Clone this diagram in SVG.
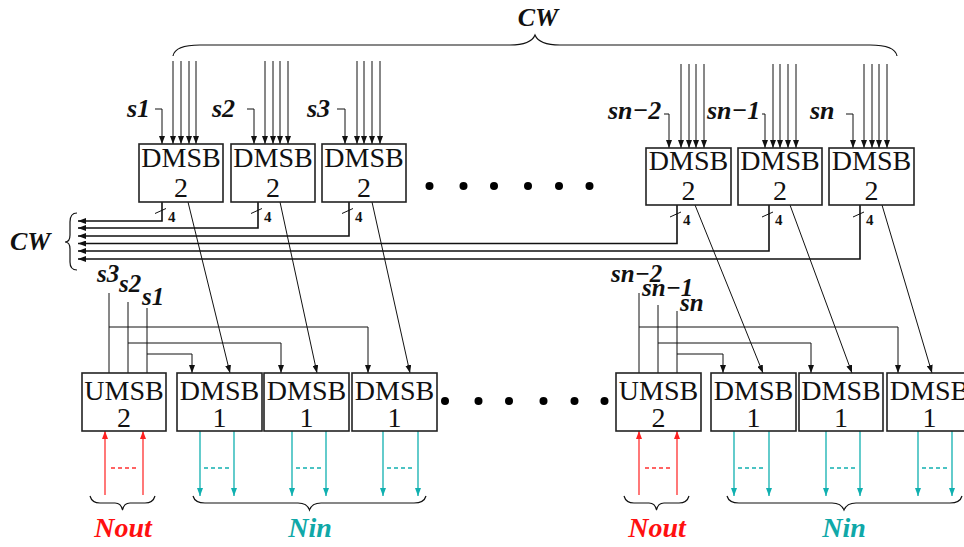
<svg xmlns="http://www.w3.org/2000/svg" width="964" height="547" viewBox="0 0 964 547">
<defs>
<marker id="ab" markerWidth="8" markerHeight="6" refX="8" refY="3" orient="auto" markerUnits="userSpaceOnUse"><path d="M0,0 L8,3 L0,6 z" fill="#111"/></marker>
<marker id="ar" markerWidth="8" markerHeight="6" refX="8" refY="3" orient="auto" markerUnits="userSpaceOnUse"><path d="M0,0 L8,3 L0,6 z" fill="#ff2020"/></marker>
<marker id="at" markerWidth="8" markerHeight="6" refX="8" refY="3" orient="auto" markerUnits="userSpaceOnUse"><path d="M0,0 L8,3 L0,6 z" fill="#10b0b0"/></marker>
</defs>
<style>
.box{fill:#fff;stroke:#222;stroke-width:1.6}
.bt{font-family:"Liberation Serif",serif;font-size:28px;fill:#111;text-anchor:middle}
.lbl{font-family:"Liberation Serif",serif;font-size:26px;font-weight:bold;font-style:italic;fill:#111}
.sl{font-family:"Liberation Serif",serif;font-size:25px;font-weight:bold;font-style:italic;fill:#111}
.four{font-family:"Liberation Serif",serif;font-size:15px;font-weight:bold;fill:#111}
.w{fill:none;stroke:#111;stroke-width:1}
.wa{fill:none;stroke:#111;stroke-width:1;marker-end:url(#ab)}
.bus{fill:none;stroke:#111;stroke-width:1.6;marker-end:url(#ab)}
.red{fill:none;stroke:#ff3030;stroke-width:1.3;marker-end:url(#ar)}
.teal{fill:none;stroke:#10b0b0;stroke-width:1.3;marker-end:url(#at)}
.rd{stroke:#ff3030;stroke-width:1.3;stroke-dasharray:4,3}
.td{stroke:#10b0b0;stroke-width:1.3;stroke-dasharray:4,3}
.br{fill:none;stroke:#111;stroke-width:1.2}
</style>
<rect width="964" height="547" fill="#fff"/>

<g id="connectors">
<path class="br" d="M173,56 Q175,45 200,45 L510,45 Q531,45 535,35 Q539,45 560,45 L870,45 Q895,45 897,56"/>
<path class="wa" d="M155,109 H162 V144"/>
<path class="wa" d="M173,61 V144"/><path class="wa" d="M181,61 V144"/><path class="wa" d="M189,61 V144"/><path class="wa" d="M196,61 V144"/>
<path class="wa" d="M247,109 H254 V144"/>
<path class="wa" d="M265,61 V144"/><path class="wa" d="M273,61 V144"/><path class="wa" d="M280,61 V144"/><path class="wa" d="M288,61 V144"/>
<path class="wa" d="M337,109 H345 V144"/>
<path class="wa" d="M357,61 V144"/><path class="wa" d="M364,61 V144"/><path class="wa" d="M372,61 V144"/><path class="wa" d="M380,61 V144"/>
<path class="wa" d="M664,114 H669 V148"/>
<path class="wa" d="M681,64 V148"/><path class="wa" d="M689,64 V148"/><path class="wa" d="M696,64 V148"/><path class="wa" d="M704,64 V148"/>
<path class="wa" d="M762,114 H765 V148"/>
<path class="wa" d="M773,64 V148"/><path class="wa" d="M780,64 V148"/><path class="wa" d="M788,64 V148"/><path class="wa" d="M796,64 V148"/>
<path class="wa" d="M846,114 H853 V148"/>
<path class="wa" d="M864,64 V148"/><path class="wa" d="M872,64 V148"/><path class="wa" d="M879,64 V148"/><path class="wa" d="M887,64 V148"/>
<path class="bus" d="M162,202 V221 H78"/>
<path class="bus" d="M258,202 V228 H78"/>
<path class="bus" d="M349,202 V236 H78"/>
<path class="bus" d="M677,205 V243.5 H78"/>
<path class="bus" d="M769,205 V251 H78"/>
<path class="bus" d="M860,205 V259 H78"/>
<path class="w" d="M155,213.5 L166,208.5"/><path class="w" d="M251,213.5 L262,208.5"/><path class="w" d="M342,213.5 L353,208.5"/>
<path class="w" d="M670,217 L681,212"/><path class="w" d="M762,217 L773,212"/><path class="w" d="M853,217 L864,212"/>
<path class="br" d="M77,213 Q70,213 70,222 L70,235 Q70,242 65,242 Q70,242 70,249 L70,262 Q70,270 77,270"/>
<path class="wa" d="M188,202 L230,373"/>
<path class="wa" d="M280,202 L317,373"/>
<path class="wa" d="M372,202 L410,373"/>
<path class="wa" d="M695,205 L763,373"/>
<path class="wa" d="M790,205 L852,373"/>
<path class="wa" d="M882,205 L932,373"/>
<path class="w" d="M109,293 V373"/><path class="w" d="M128,302 V373"/><path class="w" d="M147,308 V373"/>
<path class="wa" d="M109,327 H368 V373"/>
<path class="wa" d="M128,343 H281 V373"/>
<path class="wa" d="M147,354 H192 V373"/>
<path class="w" d="M639,293 V373"/><path class="w" d="M658,305 V373"/><path class="w" d="M677,311 V373"/>
<path class="wa" d="M639,327 H898 V373"/>
<path class="wa" d="M658,343 H811 V373"/>
<path class="wa" d="M677,354 H723 V373"/>
<path class="red" d="M105,495 V431"/><path class="red" d="M143,495 V431"/>
<line class="rd" x1="111" y1="468" x2="137" y2="468"/>
<path class="teal" d="M200,431 V496"/><path class="teal" d="M234,431 V496"/>
<line class="td" x1="204" y1="468" x2="230" y2="468"/>
<path class="teal" d="M292,431 V496"/><path class="teal" d="M326,431 V496"/>
<line class="td" x1="296" y1="468" x2="322" y2="468"/>
<path class="teal" d="M383,431 V496"/><path class="teal" d="M418,431 V496"/>
<line class="td" x1="387" y1="468" x2="414" y2="468"/>
<path class="red" d="M639,495 V431"/><path class="red" d="M677,495 V431"/>
<line class="rd" x1="645" y1="468" x2="671" y2="468"/>
<path class="teal" d="M734,431 V496"/><path class="teal" d="M769,431 V496"/>
<line class="td" x1="738" y1="468" x2="765" y2="468"/>
<path class="teal" d="M826,431 V496"/><path class="teal" d="M860,431 V496"/>
<line class="td" x1="830" y1="468" x2="856" y2="468"/>
<path class="teal" d="M918,431 V496"/><path class="teal" d="M952,431 V496"/>
<line class="td" x1="922" y1="468" x2="948" y2="468"/>
<path class="br" d="M90,496 Q92,503 100,503 L115,503 Q121,503 122.5,510 Q124,503 130,503 L145,503 Q153,503 155,496"/>
<path class="br" d="M193,496 Q195,503 205,503 L298,503 Q307,503 309.5,510 Q312,503 321,503 L414,503 Q424,503 426,496"/>
<path class="br" d="M624,496 Q626,503 634,503 L649,503 Q655,503 656.5,510 Q658,503 664,503 L679,503 Q687,503 689,496"/>
<path class="br" d="M727,496 Q729,503 739,503 L832,503 Q841,503 844,510 Q847,503 856,503 L950,503 Q960,503 962,496"/>
</g>

<g id="top-boxes">
<g id="dmsb2-1"><rect class="box" x="139" y="144" width="84" height="58"/><text class="bt" x="181" y="167">DMSB</text><text class="bt" x="181" y="197">2</text></g>
<g id="dmsb2-2"><rect class="box" x="231" y="144" width="84" height="58"/><text class="bt" x="273" y="167">DMSB</text><text class="bt" x="273" y="197">2</text></g>
<g id="dmsb2-3"><rect class="box" x="322" y="144" width="84" height="58"/><text class="bt" x="364" y="167">DMSB</text><text class="bt" x="364" y="197">2</text></g>
<g id="dmsb2-n2"><rect class="box" x="646" y="148" width="85" height="57"/><text class="bt" x="688.5" y="170">DMSB</text><text class="bt" x="688.5" y="200">2</text></g>
<g id="dmsb2-n1"><rect class="box" x="738" y="148" width="84" height="57"/><text class="bt" x="780" y="170">DMSB</text><text class="bt" x="780" y="200">2</text></g>
<g id="dmsb2-n"><rect class="box" x="829" y="148" width="85" height="57"/><text class="bt" x="871.5" y="170">DMSB</text><text class="bt" x="871.5" y="200">2</text></g>
</g>

<g id="bottom-boxes">
<g id="umsb2-a"><rect class="box" x="82" y="373" width="84" height="58"/><text class="bt" x="124" y="400">UMSB</text><text class="bt" x="124" y="427">2</text></g>
<g id="dmsb1-1"><rect class="box" x="177" y="373" width="85" height="58"/><text class="bt" x="219.5" y="400">DMSB</text><text class="bt" x="219.5" y="427">1</text></g>
<g id="dmsb1-2"><rect class="box" x="264" y="373" width="85" height="58"/><text class="bt" x="306.5" y="400">DMSB</text><text class="bt" x="306.5" y="427">1</text></g>
<g id="dmsb1-3"><rect class="box" x="352" y="373" width="85" height="58"/><text class="bt" x="394.5" y="400">DMSB</text><text class="bt" x="394.5" y="427">1</text></g>
<g id="umsb2-b"><rect class="box" x="616" y="373" width="85" height="58"/><text class="bt" x="658.5" y="400">UMSB</text><text class="bt" x="658.5" y="427">2</text></g>
<g id="dmsb1-n2"><rect class="box" x="711" y="373" width="85" height="58"/><text class="bt" x="753.5" y="400">DMSB</text><text class="bt" x="753.5" y="427">1</text></g>
<g id="dmsb1-n1"><rect class="box" x="799" y="373" width="84" height="58"/><text class="bt" x="841" y="400">DMSB</text><text class="bt" x="841" y="427">1</text></g>
<g id="dmsb1-n"><rect class="box" x="887" y="373" width="85" height="58"/><text class="bt" x="929.5" y="400">DMSB</text><text class="bt" x="929.5" y="427">1</text></g>
</g>

<g id="dots" fill="#000">
<circle cx="429.5" cy="186" r="4"/><circle cx="463.5" cy="186" r="4"/><circle cx="494" cy="186" r="4"/><circle cx="528" cy="186" r="4"/><circle cx="559" cy="186" r="4"/><circle cx="589.5" cy="186" r="4"/>
<circle cx="445" cy="401" r="4"/><circle cx="478.5" cy="401" r="4"/><circle cx="509" cy="401" r="4"/><circle cx="543.5" cy="401" r="4"/><circle cx="574.5" cy="401" r="4"/><circle cx="604.5" cy="401" r="4"/>
</g>

<g id="labels">
<text class="lbl" x="538" y="26" text-anchor="middle">CW</text>
<text class="lbl" x="10" y="250">CW</text>
<text class="lbl" x="127" y="117">s1</text>
<text class="lbl" x="212" y="117">s2</text>
<text class="lbl" x="307" y="117">s3</text>
<text class="lbl" x="608" y="119">sn−2</text>
<text class="lbl" x="707" y="119">sn−1</text>
<text class="lbl" x="810" y="119">sn</text>
<text class="four" x="168" y="222">4</text><text class="four" x="264" y="222">4</text><text class="four" x="355" y="222">4</text>
<text class="four" x="683" y="225">4</text><text class="four" x="775" y="225">4</text><text class="four" x="866" y="225">4</text>
<text class="sl" x="97" y="282">s3</text>
<text class="sl" x="119" y="292">s2</text>
<text class="sl" x="142" y="305">s1</text>
<text class="sl" x="611" y="282">sn−2</text>
<text class="sl" x="642" y="296">sn−1</text>
<text class="sl" x="680" y="311">sn</text>
<text class="lbl" x="123" y="537" text-anchor="middle" style="font-size:28px;fill:#ff1010">Nout</text>
<text class="lbl" x="310" y="537" text-anchor="middle" style="font-size:28px;fill:#10a8a8">Nin</text>
<text class="lbl" x="657" y="537" text-anchor="middle" style="font-size:28px;fill:#ff1010">Nout</text>
<text class="lbl" x="844" y="537" text-anchor="middle" style="font-size:28px;fill:#10a8a8">Nin</text>
</g>
</svg>
